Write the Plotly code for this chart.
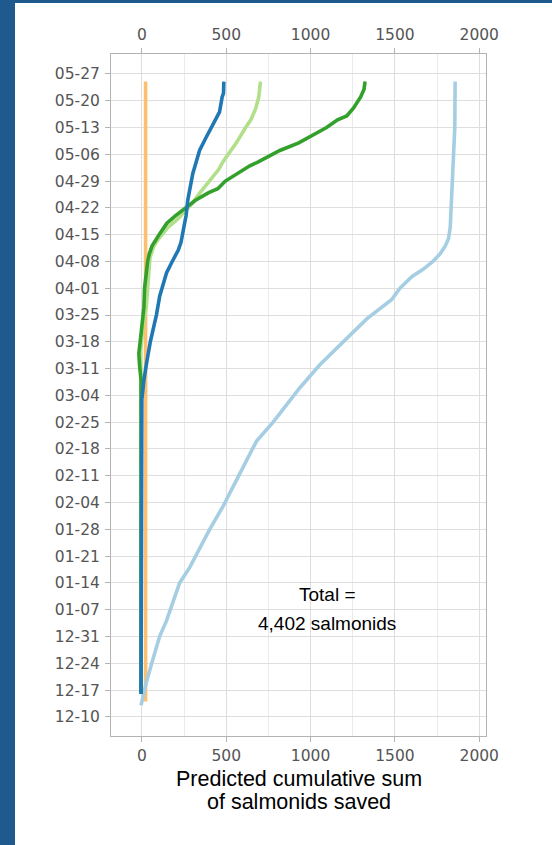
import plotly.graph_objects as go

# ---- data ----
lightblue_dates = ["2018-12-13", "2018-12-19", "2018-12-25", "2018-12-31", "2019-01-04", "2019-01-09",
                   "2019-01-14", "2019-01-18", "2019-01-23", "2019-01-28", "2019-02-03", "2019-02-08",
                   "2019-02-15", "2019-02-20", "2019-02-25", "2019-03-06", "2019-03-12", "2019-03-17",
                   "2019-03-24", "2019-03-29", "2019-04-01", "2019-04-04", "2019-04-06", "2019-04-08",
                   "2019-04-10", "2019-04-12", "2019-04-14", "2019-04-17", "2019-04-25", "2019-05-04",
                   "2019-05-13", "2019-05-25"]
lightblue_vals = [-5, 26, 65, 105, 145, 184, 224, 283, 343, 402, 481, 541, 620, 679, 778, 937, 1055, 1174,
                  1333, 1480, 1530, 1600, 1669, 1725, 1768, 1798, 1818, 1828, 1837, 1847, 1855, 1857]

darkblue_dates = ["2018-12-16", "2019-01-15", "2019-02-15", "2019-03-03", "2019-03-08", "2019-03-11",
                  "2019-03-13", "2019-03-18", "2019-03-21", "2019-03-25", "2019-03-30", "2019-04-02",
                  "2019-04-05", "2019-04-08", "2019-04-11", "2019-04-13", "2019-04-17", "2019-04-20",
                  "2019-04-24", "2019-04-27", "2019-05-01", "2019-05-04", "2019-05-07", "2019-05-10",
                  "2019-05-13", "2019-05-15", "2019-05-17", "2019-05-21", "2019-05-22", "2019-05-25"]
darkblue_vals = [-5, -5, -5, 0, 12, 20, 30, 50, 66, 86, 106, 126, 146, 180, 216, 232, 250, 262, 272, 286,
                 302, 322, 342, 376, 414, 440, 460, 476, 484, 486]

lightgreen_dates = ["2018-12-16", "2019-03-05", "2019-03-11", "2019-03-16", "2019-03-22", "2019-03-27",
                    "2019-04-02", "2019-04-07", "2019-04-09", "2019-04-10", "2019-04-12", "2019-04-14",
                    "2019-04-17", "2019-04-19", "2019-04-21", "2019-04-23", "2019-04-26", "2019-04-29",
                    "2019-05-02", "2019-05-04", "2019-05-06", "2019-05-09", "2019-05-13", "2019-05-15",
                    "2019-05-18", "2019-05-21", "2019-05-25"]
lightgreen_vals = [-5, -4, -8, -6, 6, 26, 36, 44, 48, 56, 70, 100, 156, 210, 250, 295, 345, 400, 455, 480,
                   512, 560, 615, 646, 675, 693, 703]

darkgreen_dates = ["2018-12-16", "2019-03-08", "2019-03-12", "2019-03-15", "2019-03-18", "2019-03-23",
                   "2019-03-27", "2019-04-01", "2019-04-05", "2019-04-08", "2019-04-10", "2019-04-12",
                   "2019-04-15", "2019-04-18", "2019-04-20", "2019-04-22", "2019-04-24", "2019-04-26",
                   "2019-04-27", "2019-04-29", "2019-05-01", "2019-05-03", "2019-05-04", "2019-05-07",
                   "2019-05-09", "2019-05-11", "2019-05-13", "2019-05-15", "2019-05-16", "2019-05-18",
                   "2019-05-21", "2019-05-23", "2019-05-25"]
darkgreen_vals = [-5, -5, -14, -18, -10, 2, 12, 16, 26, 34, 44, 60, 102, 148, 200, 258, 318, 396, 450, 495,
                  565, 640, 690, 818, 930, 1016, 1095, 1160, 1214, 1253, 1297, 1317, 1323]

orange_dates = ["2018-12-14", "2019-05-25"]
orange_vals = [22, 22]

x_title_line1 = "Predicted cumulative sum"
x_title_line2 = "of salmonids saved"
total_line1 = "Total ="
total_line2 = "4,402 salmonids"

# ---- styling ----
BLUE_BG = "#1f5a8e"
GRID = "#dedede"
GRID_MINOR = "#ebebeb"
BORDER = "#b3b3b3"
TICKFONT = dict(family="DejaVu Sans", size=15.5, color="#555555")

fig = go.Figure()

series = [
    (orange_vals, orange_dates, "#fdbf6f"),
    (lightblue_vals, lightblue_dates, "#a6cee3"),
    (lightgreen_vals, lightgreen_dates, "#b2df8a"),
    (darkgreen_vals, darkgreen_dates, "#33a02c"),
    (darkblue_vals, darkblue_dates, "#1f78b4"),
]
for xv, yv, col in series:
    fig.add_trace(go.Scatter(x=xv, y=yv, mode="lines", line=dict(color=col, width=3.6),
                             showlegend=False, hoverinfo="skip"))

# invisible trace to activate the top axis
fig.add_trace(go.Scatter(x=orange_vals, y=orange_dates, xaxis="x2", mode="lines",
                         opacity=0, showlegend=False, hoverinfo="skip"))

xcommon = dict(range=[-183, 2040], tick0=0, dtick=500, ticks="outside", ticklen=5,
               tickcolor=BORDER, showline=True, linecolor=BORDER, linewidth=1,
               zeroline=False, tickfont=TICKFONT)

fig.update_layout(
    width=552, height=845,
    margin=dict(l=111, r=66, t=54, b=109),
    paper_bgcolor=BLUE_BG, plot_bgcolor="white",
    xaxis=dict(**xcommon, showgrid=True, gridcolor=GRID, gridwidth=1, ticklabelstandoff=0,
               minor=dict(dtick=250, showgrid=True, gridcolor=GRID_MINOR, gridwidth=1)),
    xaxis2=dict(**xcommon, overlaying="x", side="top", matches="x", showgrid=False,
                ticklabelstandoff=2),
    yaxis=dict(type="date", range=["2018-12-05", "2019-06-01 05:00"],
               tick0="2018-12-10", dtick=7 * 86400000, tickformat="%m-%d",
               ticks="outside", ticklen=5, tickcolor=BORDER, ticklabelstandoff=2,
               showline=True, mirror=True, linecolor=BORDER, linewidth=1,
               showgrid=True, gridcolor=GRID, gridwidth=1, zeroline=False,
               tickfont=TICKFONT),
    shapes=[dict(type="rect", xref="paper", yref="paper", x0=-0.256, x1=1.3,
                 y0=-0.3, y1=(736 - 3) / 682, fillcolor="white", line=dict(width=0),
                 layer="below")],
)

annot_font = dict(family="Liberation Sans, Arial", size=19, color="black")
title_font = dict(family="Liberation Sans, Arial", size=21.5, color="black")
fig.add_annotation(x=1100, y="2019-01-11", xref="x", yref="y", text=total_line1,
                   showarrow=False, font=annot_font, xanchor="center", yanchor="middle")
fig.add_annotation(x=1100, y="2019-01-03 12:00", xref="x", yref="y", text=total_line2,
                   showarrow=False, font=annot_font, xanchor="center", yanchor="middle")
fig.add_annotation(x=0.5, y=-(779 - 736) / 682, xref="paper", yref="paper", text=x_title_line1,
                   showarrow=False, font=title_font, xanchor="center", yanchor="middle")
fig.add_annotation(x=0.5, y=-(802 - 736) / 682, xref="paper", yref="paper", text=x_title_line2,
                   showarrow=False, font=title_font, xanchor="center", yanchor="middle")

fig.write_html("out.html", config={"displayModeBar": False},
               post_script="document.body.style.margin='0px';document.body.style.padding='0px';")
